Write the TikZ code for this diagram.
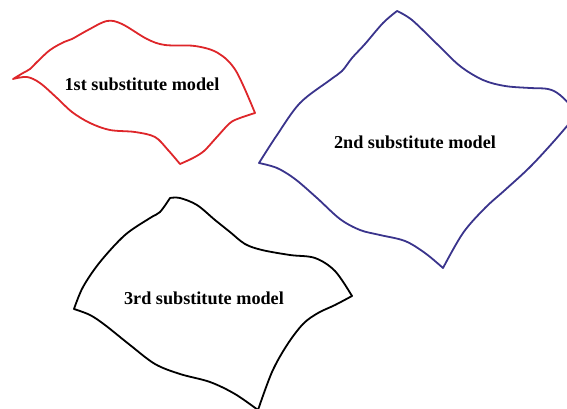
\documentclass[tikz,border=0pt]{standalone}
\usepackage{fontspec}
\setmainfont{Liberation Serif}
\usepackage{tikz}

\definecolor{blobred}{RGB}{222,38,42}
\definecolor{blobblue}{RGB}{58,52,140}

\begin{document}
\begin{tikzpicture}[
        x=1pt, y=-1pt,
        line join=round,
        % Style for the outlines of the three regions
        blob/.style={line width=1.8pt},
        redblob/.style={blob, draw=blobred},
        blueblob/.style={blob, draw=blobblue},
        blackblob/.style={blob, draw=black},
        % Style for the labels inside them
        modellabel/.style={font=\fontsize{18.2}{21}\selectfont\bfseries, align=center}
    ]
    \useasboundingbox (0,0) rectangle (567,408);

    % --- 1. FIRST REGION (RED) ---
    \draw[redblob]
        plot[smooth, tension=0.55] coordinates {(13,79) (23,73) (30,69) (37,62) (50,50) (64,42) (72,39) (88,30) (107,21) (122,24) (147,39) (165,45) (195,46) (218,53) (236,71) (255,113)}
        -- plot[smooth, tension=0.55] coordinates {(255,113) (240,118) (230,123) (216,138) (204,151) (193,158) (180,164)}
        -- plot[smooth, tension=0.55] coordinates {(180,164) (168,150) (155,137) (135,132) (110,130) (90,123) (72,112) (57,98) (40,83) (27,77) (13,79)}
        -- cycle;
    \node[modellabel] (M1) at (142,84) {1st substitute model};

    % --- 2. SECOND REGION (BLUE) ---
    \draw[blueblob]
        plot[smooth, tension=0.55] coordinates {(397,11) (412,20) (437,44) (460,66) (483,80) (505,86) (530,88) (548,89) (560,95) (578,113)}
        -- plot[smooth, tension=0.55] coordinates {(578,113) (555,140) (530,167) (505,190) (485,208) (463,233) (443,268)}
        -- plot[smooth, tension=0.55] coordinates {(443,268) (425,253) (405,241) (380,235) (360,230) (340,219) (317,198) (295,179) (277,168) (259,163)}
        -- plot[smooth, tension=0.55] coordinates {(259,163) (277,135) (300,103) (330,80) (342,71) (352,58) (365,44) (383,23) (397,11)}
        -- cycle;
    \node[modellabel] (M2) at (415,142) {2nd substitute model};

    % --- 3. THIRD REGION (BLACK) ---
    \draw[blackblob]
        plot[smooth, tension=0.55] coordinates {(170,198) (180,198) (197,205) (215,220) (230,232) (245,244) (262,250) (290,255) (315,258) (335,271) (352,296)}
        -- plot[smooth, tension=0.55] coordinates {(352,296) (335,305) (318,313) (303,324) (287,345) (272,372) (258,410)}
        -- plot[smooth, tension=0.55] coordinates {(258,410) (235,394) (210,382) (180,374) (155,364) (130,345) (105,325) (90,315) (74,309)}
        -- plot[smooth, tension=0.55] coordinates {(74,309) (83,287) (100,262) (125,235) (150,218) (160,212) (170,198)}
        -- cycle;
    \node[modellabel] (M3) at (204,298) {3rd substitute model};

\end{tikzpicture}
\end{document}
